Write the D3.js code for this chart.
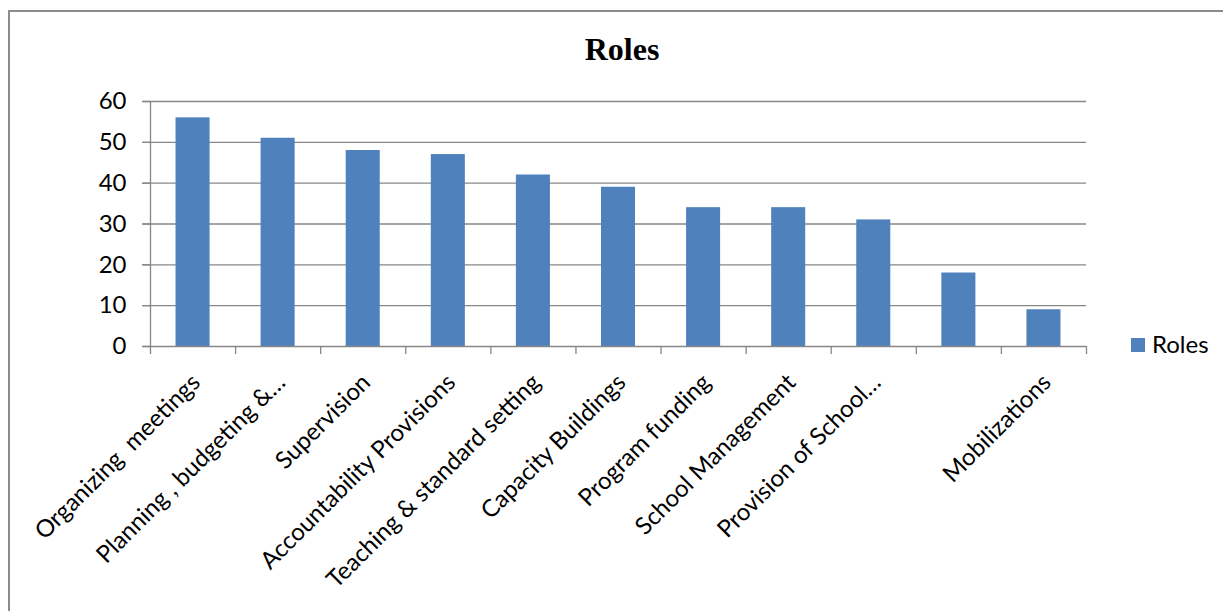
<!DOCTYPE html>
<html>
<head>
<meta charset="utf-8">
<script src="https://cdn.jsdelivr.net/npm/d3@7"></script>
<style>
  html, body { margin: 0; padding: 0; background: #fff; }
  svg { display: block; }
</style>
</head>
<body>
<svg id="chart" width="1223" height="611"></svg>
<script>
const categories = [
  "Organizing  meetings",
  "Planning , budgeting &…",
  "Supervision",
  "Accountability Provisions",
  "Teaching & standard setting",
  "Capacity Buildings",
  "Program funding",
  "School Management",
  "Provision of School…",
  "",
  "Mobilizations"
];
const values = [56, 51, 48, 47, 42, 39, 34, 34, 31, 18, 9];
const yTicks = [0, 10, 20, 30, 40, 50, 60];
const seriesName = "Roles";
const chartTitle = "Roles";

(function () {
const svg = d3.select("#chart");
const font = "Lato, 'Open Sans', sans-serif";
const fs = 24;
const gridColor = "#878787";
const barColor = "#4F81BD";

// outer border
svg.append("rect")
  .attr("x", 9).attr("y", 11)
  .attr("width", 1300).attr("height", 700)
  .attr("fill", "none").attr("stroke", "#8c8c8c").attr("stroke-width", 2);

const pLeft = 150, pRight = 1086, pTop = 101, pBottom = 346;
const idx = d3.range(categories.length);
const x = d3.scaleBand().domain(idx).range([pLeft, pRight]).paddingInner(0.6).paddingOuter(0.3);
const y = d3.scaleLinear().domain([0, 60]).range([pBottom, pTop]);
const step = (pRight - pLeft) / categories.length;

// gridlines
svg.append("g").selectAll("line").data(yTicks.filter(d => d > 0)).join("line")
  .attr("x1", pLeft - 8).attr("x2", pRight)
  .attr("y1", d => y(d) + 0.5).attr("y2", d => y(d) + 0.5)
  .attr("stroke", gridColor).attr("stroke-width", 1.3);

// bars
svg.append("g").selectAll("rect").data(values).join("rect")
  .attr("x", (d, i) => x(i))
  .attr("width", x.bandwidth())
  .attr("y", d => y(d))
  .attr("height", d => y(0) - y(d))
  .attr("fill", barColor);

// y axis
const yAxis = d3.axisLeft(y).tickValues(yTicks).tickSize(8).tickPadding(16);
const gy = svg.append("g").attr("transform", `translate(${pLeft + 0.5},0)`).call(yAxis);
gy.select(".domain").attr("stroke", gridColor).attr("stroke-width", 1.3).attr("d", `M0,${pTop}V${pBottom}`);
gy.selectAll(".tick line").attr("stroke", gridColor).attr("stroke-width", 1.3);
gy.selectAll(".tick text").attr("font-family", font).attr("font-size", fs).attr("fill", "#000");

// x axis line and ticks at band boundaries
const bounds = d3.range(categories.length + 1).map(i => pLeft + i * step);
svg.append("line").attr("x1", pLeft - 8).attr("x2", pRight)
  .attr("y1", pBottom + 0.5).attr("y2", pBottom + 0.5)
  .attr("stroke", gridColor).attr("stroke-width", 1.3);
svg.append("g").selectAll("line").data(bounds).join("line")
  .attr("x1", d => d + 0.5).attr("x2", d => d + 0.5)
  .attr("y1", pBottom).attr("y2", pBottom + 8)
  .attr("stroke", gridColor).attr("stroke-width", 1.3);

// x labels
svg.append("g").selectAll("text").data(categories).join("text")
  .attr("transform", (d, i) => `translate(${x(i) + x.bandwidth() / 2 + 9},${384}) rotate(-45)`)
  .attr("text-anchor", "end")
  .attr("font-family", font).attr("font-size", fs).attr("fill", "#000")
  .style("white-space", "pre")
  .text(d => d);

// title
svg.append("text").attr("x", 622).attr("y", 60)
  .attr("text-anchor", "middle")
  .attr("font-family", "'Liberation Serif', 'Times New Roman', serif")
  .attr("font-weight", "bold").attr("font-size", 32).attr("fill", "#000")
  .text(chartTitle);

// legend
svg.append("rect").attr("x", 1131).attr("y", 338).attr("width", 14).attr("height", 14).attr("fill", barColor);
svg.append("text").attr("x", 1152).attr("y", 353)
  .attr("font-family", font).attr("font-size", fs).attr("fill", "#000")
  .text(seriesName);
})();
</script>
</body>
</html>
